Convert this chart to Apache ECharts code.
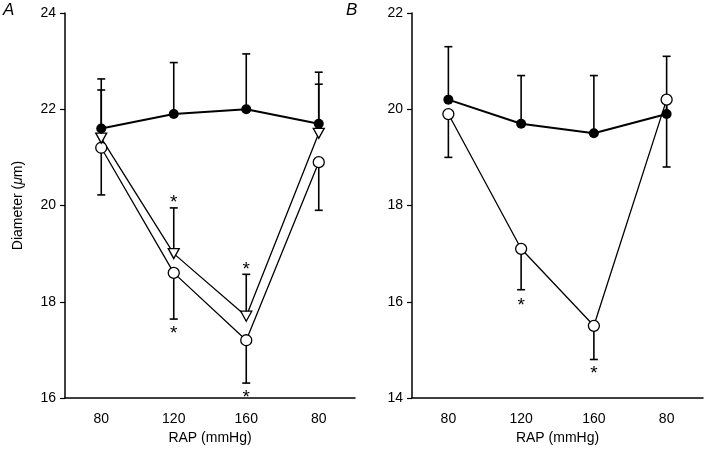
<!DOCTYPE html>
<html>
<head>
<meta charset="utf-8">
<script src="https://cdn.jsdelivr.net/npm/echarts@6/dist/echarts.min.js"></script>
<style>
  html, body { margin: 0; padding: 0; background: #fff; }
  #chart { width: 708px; height: 452px; }
</style>
</head>
<body>
<div id="chart"></div>
<script>
// RAP steps (same for both panels)
const categories = ['80', '120', '160', '80']

// panel A
const controlA = [21.6, 21.9, 22.0, 21.7]
const controlAUpper = [22.63, 22.97, 23.15, 22.77]
const triangleA = [21.4, 19.0, 17.7, 21.5]
const triangleAUpper = [22.4, 19.95, 18.57, 22.52]
const openA = [21.2, 18.6, 17.2, 20.9]
const openALower = [20.22, 17.64, 16.31, 19.9]
const starsA = [[1, 20.13], [1, 17.41], [2, 18.75], [2, 16.09]]

// panel B
const controlB = [20.2, 19.7, 19.5, 19.9]
const controlBUpper = [21.3, 20.7, 20.7, 21.1]
const openB = [19.9, 17.1, 15.5, 20.2]
const openBLower = [19.0, 16.25, 14.8, 18.8]
const starsB = [[1, 16.01], [2, 14.58]]

const font = '"Liberation Sans", Arial, Helvetica, sans-serif'

const chart = echarts.init(document.getElementById('chart'))

function errorBar (params, api) {
  const x = api.value(0)
  const p0 = api.coord([x, api.value(1)])
  const p1 = api.coord([x, api.value(2)])
  const half = 4
  const style = { stroke: '#000', lineWidth: 1.6 }
  return {
    type: 'group',
    children: [
      { type: 'line', shape: { x1: p0[0], y1: p0[1], x2: p1[0], y2: p1[1] }, style: style },
      { type: 'line', shape: { x1: p1[0] - half, y1: p1[1], x2: p1[0] + half, y2: p1[1] }, style: style }
    ]
  }
}

function star (params, api) {
  const p = api.coord([api.value(0), api.value(1)])
  return {
    type: 'text',
    x: p[0],
    y: p[1] + 4,
    style: { text: '*', fontSize: 19, fontFamily: font, fill: '#000', align: 'center', verticalAlign: 'middle' }
  }
}

function bars (vals, ends) {
  return vals.map((v, i) => [i, v, ends[i]])
}

function xAxis (gridIndex) {
  return {
    type: 'category',
    gridIndex: gridIndex,
    data: categories,
    boundaryGap: true,
    name: 'RAP (mmHg)',
    nameLocation: 'middle',
    nameGap: 23,
    nameTextStyle: { color: '#000', fontSize: 14, fontFamily: font },
    axisLine: { lineStyle: { color: '#000', width: 1.5 } },
    axisTick: { alignWithLabel: true, length: 5, lineStyle: { color: '#000', width: 1.2 } },
    axisLabel: { color: '#000', fontSize: 14, fontFamily: font, margin: 14 },
    splitLine: { show: false }
  }
}

function yAxis (gridIndex, min, max, name) {
  return {
    type: 'value',
    gridIndex: gridIndex,
    min: min,
    max: max,
    interval: 2,
    name: name,
    nameLocation: 'middle',
    nameGap: 40,
    nameTextStyle: {
      color: '#000',
      fontSize: 14,
      fontFamily: font,
      rich: { mu: { fontStyle: 'italic', fontSize: 14, fontFamily: font, color: '#000' } }
    },
    axisLine: { show: true, lineStyle: { color: '#000', width: 1.5 } },
    axisTick: { show: true, length: 5, lineStyle: { color: '#000', width: 1.2 } },
    axisLabel: { color: '#000', fontSize: 14, fontFamily: font, margin: 9 },
    splitLine: { show: false }
  }
}

function lineSeries (data, idx, symbol, size, filled, width) {
  return {
    type: 'line',
    xAxisIndex: idx,
    yAxisIndex: idx,
    data: data,
    symbol: symbol,
    symbolSize: size,
    symbolRotate: symbol === 'triangle' ? 180 : 0,
    showAllSymbol: true,
    z: 5,
    lineStyle: { color: '#000', width: width },
    itemStyle: { color: filled ? '#000' : '#fff', borderColor: '#000', borderWidth: filled ? 0 : 1.3 },
    animation: false
  }
}

function barSeries (data, idx) {
  return { type: 'custom', xAxisIndex: idx, yAxisIndex: idx, renderItem: errorBar, data: data, z: 2, animation: false }
}

function starSeries (data, idx) {
  return { type: 'custom', xAxisIndex: idx, yAxisIndex: idx, renderItem: star, data: data, z: 6, animation: false }
}

const option = {
  backgroundColor: '#fff',
  animation: false,
  textStyle: { fontFamily: font },
  grid: [
    { left: 65, top: 13, width: 290, height: 385 },
    { left: 412, top: 13, width: 291, height: 385 }
  ],
  xAxis: [xAxis(0), xAxis(1)],
  yAxis: [yAxis(0, 16, 24, 'Diameter ({mu|μ}m)'), yAxis(1, 14, 22, '')],
  graphic: [
    { type: 'text', left: 3, top: 2, style: { text: 'A', fontSize: 17, fontStyle: 'italic', fontFamily: font, fill: '#000' } },
    { type: 'text', left: 346, top: 2, style: { text: 'B', fontSize: 17, fontStyle: 'italic', fontFamily: font, fill: '#000' } }
  ],
  series: [
    barSeries(bars(controlA, controlAUpper), 0),
    barSeries(bars(triangleA, triangleAUpper), 0),
    barSeries(bars(openA, openALower), 0),
    lineSeries(openA, 0, 'circle', 11, false, 1.3),
    lineSeries(triangleA, 0, 'triangle', [11, 10], false, 1.3),
    lineSeries(controlA, 0, 'circle', 10, true, 2),
    starSeries(starsA, 0),

    barSeries(bars(controlB, controlBUpper), 1),
    barSeries(bars(openB, openBLower), 1),
    lineSeries(controlB, 1, 'circle', 10, true, 2),
    lineSeries(openB, 1, 'circle', 11, false, 1.3),
    starSeries(starsB, 1)
  ]
}

chart.setOption(option)
</script>
</body>
</html>
